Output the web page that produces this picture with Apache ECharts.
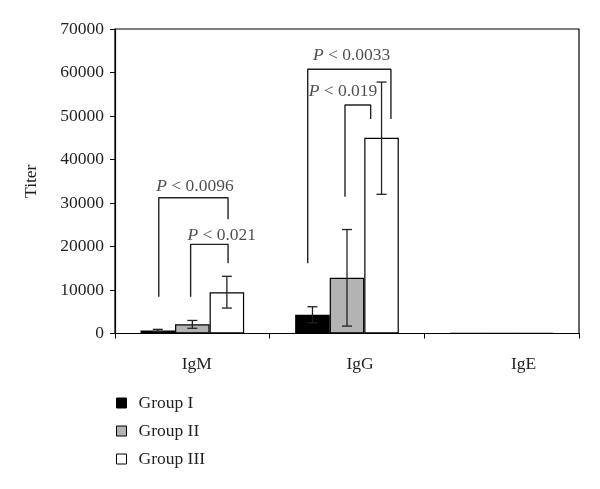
<!DOCTYPE html>
<html>
<head>
<meta charset="utf-8">
<script src="https://cdn.jsdelivr.net/npm/echarts@6/dist/echarts.min.js"></script>
<style>html,body{margin:0;padding:0;background:#fff}#c{width:600px;height:489px}</style>
</head>
<body>
<div id="c"></div>
<script>
// ---- data ----
var categories = ['IgM', 'IgG', 'IgE'];
var groupNames = ['Group I', 'Group II', 'Group III'];
var group1 = [700, 4300, 30];
var group2 = [2100, 12800, 30];
var group3 = [9500, 45000, 30];
// error bars: [categoryIndex, low, high]
var err1 = [[0, 450, 950], [1, 2450, 6150]];
var err2 = [[0, 1200, 3000], [1, 1700, 23900]];
var err3 = [[0, 5850, 13150], [1, 32000, 57800]];
var yTicks = [0, 10000, 20000, 30000, 40000, 50000, 60000, 70000];
// significance brackets in (category position, value) units
var bracketIgMBig = [[0.283, 8460], [0.283, 31200], [0.731, 31200], [0.731, 26250]];
var bracketIgMSmall = [[0.489, 8460], [0.489, 20500], [0.731, 20500], [0.731, 16140]];
var bracketIgGBig = [[1.246, 16140], [1.246, 60740], [1.784, 60740], [1.784, 49300]];
var bracketIgGSmall = [[1.487, 31450], [1.487, 52530], [1.653, 52530], [1.653, 49300]];
var pLabels = [
  [0.517, 33750, '0.0096'],
  [0.690, 22650, '0.021'],
  [1.530, 64030, '0.0033'],
  [1.474, 55600, '0.019']
];

var FONT = 'Liberation Serif';
var FS = 17.5;
var TXT = '#231f20';
var chart = echarts.init(document.getElementById('c'));

function errSeries(data, g) {
  return {
    type: 'custom', xAxisIndex: 0, yAxisIndex: 0, z: 5,
    data: data,
    encode: {x: 0, y: [1, 2]},
    renderItem: function (params, api) {
      var cat = api.value(0), lo = api.value(1), hi = api.value(2);
      var band = api.size([1, 0])[0];
      var bw = band * (1 - 0.33) / 3;
      var cx = api.coord([cat, 0])[0] + (g - 1) * bw;
      var yl = api.coord([cat, lo])[1], yh = api.coord([cat, hi])[1];
      var cap = 5;
      var st = {stroke: '#222', lineWidth: 1.3};
      return {type: 'group', children: [
        {type: 'line', shape: {x1: cx, y1: yl, x2: cx, y2: yh}, style: st},
        {type: 'line', shape: {x1: cx - cap, y1: yh, x2: cx + cap, y2: yh}, style: st},
        {type: 'line', shape: {x1: cx - cap, y1: yl, x2: cx + cap, y2: yl}, style: st}
      ]};
    }
  };
}
function bracket(data) {
  return {type: 'line', xAxisIndex: 1, yAxisIndex: 0, data: data, symbol: 'none',
    lineStyle: {color: '#222', width: 1.4}, silent: true, z: 6, animation: false};
}
var barColors = ['#000000', '#b3b3b3', '#ffffff'];
var groups = [group1, group2, group3];
var series = [];
groups.forEach(function (d, i) {
  series.push({
    name: groupNames[i], type: 'bar', data: d, barGap: '0%', barCategoryGap: '33%',
    itemStyle: {color: barColors[i], borderColor: '#000', borderWidth: 1.2}
  });
});
series.push(errSeries(err1, 0), errSeries(err2, 1), errSeries(err3, 2));
series.push(bracket(bracketIgMBig), bracket(bracketIgMSmall), bracket(bracketIgGBig), bracket(bracketIgGSmall));
series.push({
  type: 'scatter', xAxisIndex: 1, yAxisIndex: 0, symbolSize: 0, z: 7,
  data: pLabels,
  label: {
    show: true, position: 'inside',
    formatter: function (p) { return '{i|P} < ' + p.value[2]; },
    fontFamily: FONT, fontSize: FS, color: TXT,
    rich: {i: {fontStyle: 'italic', fontFamily: FONT, fontSize: FS, color: TXT}}
  }
});

chart.setOption({
  animation: false,
  backgroundColor: '#fff',
  grid: {left: 115, right: 21, top: 29, bottom: 155.5, show: true, borderColor: '#000', borderWidth: 1.2, containLabel: false},
  legend: {
    data: groupNames, orient: 'vertical', left: 116, top: 394, padding: 0, itemWidth: 10, itemHeight: 10, itemGap: 10,
    icon: 'rect',
    itemStyle: {borderColor: '#000', borderWidth: 1},
    textStyle: {fontFamily: FONT, fontSize: FS, color: TXT, lineHeight: 16, padding: [0, 0, 0, 7]}
  },
  xAxis: [{
    type: 'category', data: categories,
    axisLine: {lineStyle: {color: '#000', width: 1.2}},
    axisTick: {show: true, inside: false, length: 5, lineStyle: {color: '#000'}},
    axisLabel: {
      margin: 22, fontFamily: FONT, fontSize: FS, color: TXT,
      formatter: function (v, i) { return '{c' + i + '|' + v + '}'; },
      rich: {
        c0: {padding: [0, 0, 0, 9], fontFamily: FONT, fontSize: FS, color: TXT},
        c1: {padding: [0, 0, 0, 26], fontFamily: FONT, fontSize: FS, color: TXT},
        c2: {padding: [0, 0, 0, 44], fontFamily: FONT, fontSize: FS, color: TXT}
      }
    },
    splitLine: {show: false}
  }, {
    type: 'value', min: 0, max: 3, show: false
  }],
  yAxis: {
    type: 'value', min: yTicks[0], max: yTicks[yTicks.length - 1], interval: yTicks[1] - yTicks[0],
    name: 'Titer', nameLocation: 'middle', nameGap: 75, nameRotate: 90,
    nameTextStyle: {fontFamily: FONT, fontSize: FS, color: TXT},
    axisLine: {show: true, lineStyle: {color: '#000', width: 1.2}},
    axisTick: {show: true, length: 5, lineStyle: {color: '#000'}},
    axisLabel: {margin: 11, fontFamily: FONT, fontSize: FS, color: TXT, formatter: function (v) { return String(v); }},
    splitLine: {show: false}
  },
  series: series
});
</script>
</body>
</html>
